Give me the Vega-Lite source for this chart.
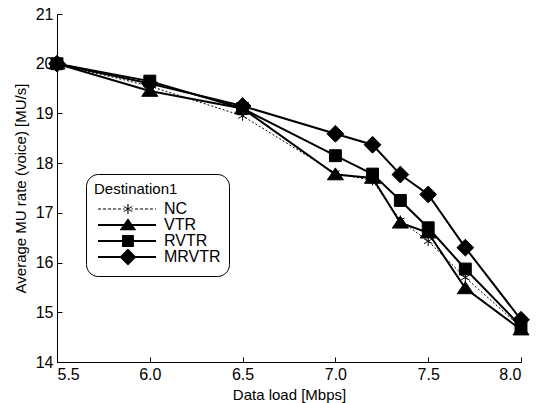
{
  "$schema": "https://vega.github.io/schema/vega-lite/v6.json",
  "width": 464,
  "height": 348,
  "autosize": {"type": "none"},
  "padding": {"left": 57, "top": 14, "right": 21, "bottom": 41},
  "background": "white",
  "config": {
    "view": {"stroke": null},
    "font": "Liberation Sans",
    "axis": {
      "grid": false,
      "domainColor": "black",
      "domainWidth": 1,
      "tickColor": "black",
      "tickSize": -5,
      "labelColor": "black",
      "labelFontSize": 16,
      "labelFont": "Liberation Sans",
      "titleColor": "black",
      "titleFontSize": 15,
      "titleFont": "Liberation Sans",
      "titleFontWeight": "normal"
    }
  },
  "data": {
    "values": [
      {"x": 5.5, "y": 20.0, "s": "NC"},
      {"x": 6.0, "y": 19.55, "s": "NC"},
      {"x": 6.5, "y": 18.95, "s": "NC"},
      {"x": 7.0, "y": 17.8, "s": "NC"},
      {"x": 7.2, "y": 17.65, "s": "NC"},
      {"x": 7.35, "y": 16.85, "s": "NC"},
      {"x": 7.5, "y": 16.43, "s": "NC"},
      {"x": 7.7, "y": 15.7, "s": "NC"},
      {"x": 8.0, "y": 14.7, "s": "NC"},
      {"x": 5.5, "y": 20.0, "s": "VTR"},
      {"x": 6.0, "y": 19.45, "s": "VTR"},
      {"x": 6.5, "y": 19.1, "s": "VTR"},
      {"x": 7.0, "y": 17.77, "s": "VTR"},
      {"x": 7.2, "y": 17.7, "s": "VTR"},
      {"x": 7.35, "y": 16.8, "s": "VTR"},
      {"x": 7.5, "y": 16.6, "s": "VTR"},
      {"x": 7.7, "y": 15.48, "s": "VTR"},
      {"x": 8.0, "y": 14.65, "s": "VTR"},
      {"x": 5.5, "y": 20.0, "s": "RVTR"},
      {"x": 6.0, "y": 19.65, "s": "RVTR"},
      {"x": 6.5, "y": 19.1, "s": "RVTR"},
      {"x": 7.0, "y": 18.15, "s": "RVTR"},
      {"x": 7.2, "y": 17.78, "s": "RVTR"},
      {"x": 7.35, "y": 17.25, "s": "RVTR"},
      {"x": 7.5, "y": 16.7, "s": "RVTR"},
      {"x": 7.7, "y": 15.87, "s": "RVTR"},
      {"x": 8.0, "y": 14.72, "s": "RVTR"},
      {"x": 5.5, "y": 20.0, "s": "MRVTR"},
      {"x": 6.0, "y": 19.6, "s": "MRVTR"},
      {"x": 6.5, "y": 19.15, "s": "MRVTR"},
      {"x": 7.0, "y": 18.59, "s": "MRVTR"},
      {"x": 7.2, "y": 18.37, "s": "MRVTR"},
      {"x": 7.35, "y": 17.77, "s": "MRVTR"},
      {"x": 7.5, "y": 17.37, "s": "MRVTR"},
      {"x": 7.7, "y": 16.3, "s": "MRVTR"},
      {"x": 8.0, "y": 14.85, "s": "MRVTR"}
    ]
  },
  "encoding": {
    "x": {
      "field": "x",
      "type": "quantitative",
      "scale": {"domain": [5.5, 8.0], "nice": false, "zero": false},
      "axis": {
        "title": "Data load [Mbps]",
        "values": [5.5, 6.0, 6.5, 7.0, 7.5, 8.0],
        "format": ".1f",
        "labelPadding": 9,
        "titlePadding": 5
      }
    },
    "y": {
      "field": "y",
      "type": "quantitative",
      "scale": {"domain": [14, 21], "nice": false, "zero": false},
      "axis": {
        "title": "Average MU rate (voice) [MU/s]",
        "values": [14, 15, 16, 17, 18, 19, 20, 21],
        "format": "d",
        "labelPadding": 9,
        "titlePadding": 7
      }
    }
  },
  "layer": [
    {
      "transform": [{"filter": "datum.s === 'NC'"}],
      "mark": {"type": "line", "color": "black", "strokeWidth": 1, "strokeDash": [2, 2]},
      "encoding": {"detail": {"field": "s"}}
    },
    {
      "transform": [{"filter": "datum.s !== 'NC'"}],
      "mark": {"type": "line", "color": "black", "strokeWidth": 2},
      "encoding": {"detail": {"field": "s"}}
    },
    {
      "mark": {"type": "point", "filled": true, "fill": "black", "stroke": "black", "strokeWidth": 1, "size": 196, "opacity": 1},
      "encoding": {
        "shape": {
          "field": "s",
          "scale": {
            "domain": ["NC", "VTR", "RVTR", "MRVTR"],
            "range": [
              "M0,-0.7V0.7M-0.6,-0.35L0.6,0.35M-0.6,0.35L0.6,-0.35",
              "M0,-0.95L1.15,0.75L-1.15,0.75Z",
              "M-0.85,-0.85H0.85V0.85H-0.85Z",
              "M0,-1.2L1.2,0L0,1.2L-1.2,0Z"
            ]
          },
          "legend": null
        }
      }
    },
    {
      "mark": {"type": "point", "filled": true, "fill": "black", "stroke": "black", "strokeWidth": 1, "size": 196, "opacity": 0},
      "encoding": {
        "shape": {
          "field": "s",
          "title": "Destination1",
          "scale": {
            "domain": ["NC", "VTR", "RVTR", "MRVTR"],
            "range": [
              "M-0.57,-0.08H-0.14V0.08H-0.57Z M0.14,-0.08H0.57V0.08H0.14Z M0.86,-0.08H1.29V0.08H0.86Z M1.57,-0.08H2.0V0.08H1.57Z M2.29,-0.08H2.71V0.08H2.29Z M3.0,-0.08H3.2V0.08H3.0Z M4.22,-0.08H4.43V0.08H4.22Z M4.71,-0.08H5.14V0.08H4.71Z M5.43,-0.08H5.86V0.08H5.43Z M6.14,-0.08H6.57V0.08H6.14Z M6.86,-0.08H7.29V0.08H6.86Z M7.57,-0.08H7.71V0.08H7.57Z M3.63,-0.7H3.79V0.7H3.63Z M3.11,-0.43L4.31,0.27L4.31,0.43L3.11,-0.27Z M3.11,0.27L4.31,-0.43L4.31,-0.27L3.11,0.43Z",
              "M-0.57,-0.14H7.71V0.14H-0.57Z M3.71,-0.95L4.91,0.75L2.51,0.75Z",
              "M-0.57,-0.14H7.71V0.14H-0.57Z M2.86,-0.85H4.56V0.85H2.86Z",
              "M-0.57,-0.14H7.71V0.14H-0.57Z M3.71,-1.2L4.91,0L3.71,1.2L2.51,0Z"
            ]
          },
          "legend": {
            "orient": "none",
            "legendX": 29,
            "legendY": 160,
            "padding": 8,
            "strokeColor": "black",
            "cornerRadius": 12,
            "fillColor": "white",
            "symbolSize": 196,
            "symbolOpacity": 1,
            "symbolFillColor": "black",
            "symbolStrokeColor": "black",
            "symbolStrokeWidth": 1,
            "labelOffset": 54,
            "labelFontSize": 16,
            "labelColor": "black",
            "labelFont": "Liberation Sans",
            "rowPadding": -3,
            "titleFontSize": 15,
            "titleFontWeight": "normal",
            "titleColor": "black",
            "titleFont": "Liberation Sans",
            "titlePadding": 4
          }
        }
      }
    }
  ],
  "resolve": {"scale": {"shape": "independent"}}
}
